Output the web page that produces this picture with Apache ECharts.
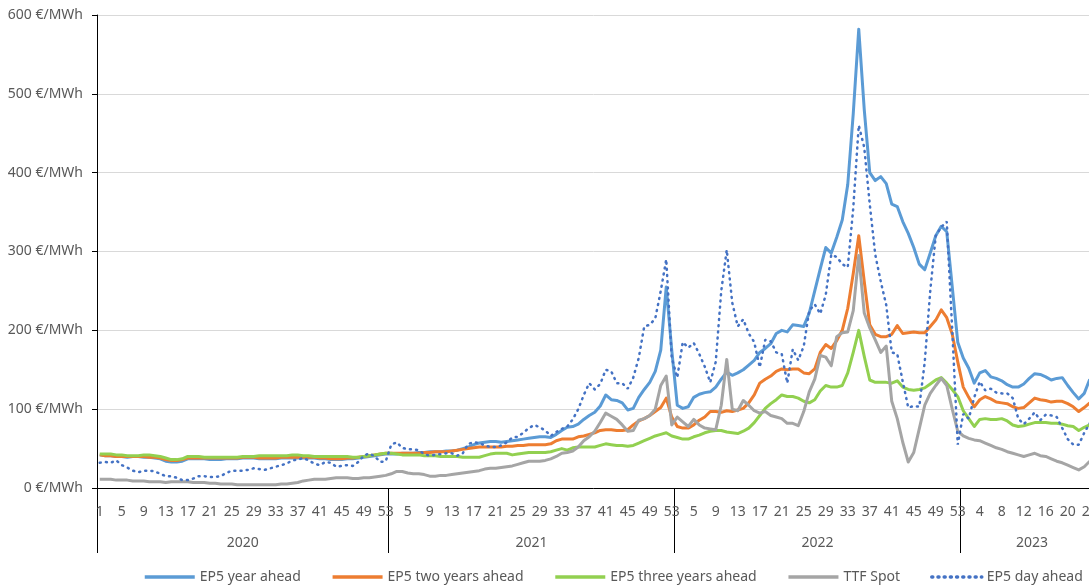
<!DOCTYPE html>
<html>
<head>
<meta charset="utf-8">
<script src="https://cdn.jsdelivr.net/npm/echarts@6/dist/echarts.min.js"></script>
<style>
  html, body { margin: 0; padding: 0; background: #fff; }
  #main { width: 1089px; height: 588px; }
</style>
</head>
<body>
<div id="main"></div>
<script>
// weekly categories per year (first and last week number shown on the axis)
const years = ['2020', '2021', '2022', '2023']
const firstWeek = [1, 2, 2, 1]
const lastWeek = [53, 53, 53, 26]

const seriesNames = ['EP5 year ahead', 'EP5 two years ahead', 'EP5 three years ahead', 'TTF Spot', 'EP5 day ahead']
const seriesColors = ['#5B9BD5', '#ED7D31', '#92D050', '#A5A5A5', '#4472C4']

const yTicks = [0, 100, 200, 300, 400, 500, 600]

// €/MWh
const yearAhead = [
  42, 41, 41, 40, 40, 39, 40, 40, 39, 39, 38, 37, 34, 33, 33, 34, 37, 37, 37, 37,
  36, 36, 36, 37, 37, 37, 38, 38, 38, 37, 37, 37, 37, 38, 38, 38, 38, 38, 38, 38,
  37, 37, 36, 36, 36, 37, 37, 38, 39, 40, 41, 42, 43,
  43, 43, 44, 44, 44, 45, 45, 46, 46, 46, 47, 47, 48, 50, 52, 55, 57, 58, 59, 59,
  58, 59, 60, 61, 62, 63, 64, 65, 65, 64, 68, 73, 77, 78, 81, 87, 92, 96, 104, 118,
  112, 111, 108, 99, 101, 115, 125, 134, 148, 175, 255, 175,
  105, 101, 103, 115, 119, 121, 122, 128, 138, 147, 143, 146, 150, 156, 162, 172, 177, 183, 196, 200,
  198, 207, 206, 205, 222, 250, 278, 305, 298, 318, 340, 385, 475, 582, 480, 400, 390, 395, 386, 360,
  357, 338, 323, 305, 284, 277, 298, 320, 332, 325, 255, 185,
  165, 152, 133, 146, 149, 141, 139, 136, 131, 128, 128, 132, 139, 145, 144, 141, 137, 139, 140, 130,
  121, 113, 120, 138
]
const twoYearsAhead = [
  42, 41, 41, 40, 40, 40, 40, 40, 40, 39, 39, 38, 36, 35, 35, 36, 38, 38, 38, 38,
  38, 38, 38, 38, 38, 38, 39, 39, 39, 38, 38, 38, 38, 39, 39, 39, 39, 39, 39, 39,
  38, 38, 37, 37, 37, 38, 38, 39, 40, 41, 42, 43, 44,
  44, 44, 44, 44, 44, 44, 45, 45, 46, 46, 46, 47, 48, 49, 50, 51, 52, 52, 52, 52,
  52, 53, 53, 54, 54, 55, 55, 55, 55, 56, 60, 62, 62, 62, 65, 66, 68, 70, 73, 74,
  74, 73, 73, 74, 80, 85, 88, 92, 97, 102, 114, 90,
  78, 76, 76, 80, 86, 90, 97, 97, 96, 98, 97, 99, 101, 108, 118, 133, 138, 142, 148, 151,
  150, 151, 151, 146, 145, 151, 172, 182, 177, 187, 200, 228, 272, 320, 262, 207, 195, 192, 192, 195,
  206, 196, 197, 198, 197, 197, 205, 213, 226, 216, 195, 160,
  128, 115, 103, 112, 116, 113, 109, 108, 107, 103, 101, 102, 108, 114, 112, 111, 109, 110, 110, 107,
  103, 97, 102, 108
]
const threeYearsAhead = [
  43, 43, 43, 42, 42, 41, 41, 41, 42, 42, 41, 40, 38, 36, 36, 37, 40, 40, 40, 39,
  39, 39, 39, 39, 39, 39, 40, 40, 40, 41, 41, 41, 41, 41, 41, 42, 42, 41, 41, 40,
  40, 40, 40, 40, 40, 40, 39, 39, 40, 41, 42, 43, 44,
  44, 43, 42, 42, 42, 42, 41, 41, 41, 40, 40, 40, 40, 39, 39, 39, 39, 41, 43, 44,
  44, 44, 42, 43, 44, 45, 45, 45, 45, 46, 48, 50, 48, 51, 52, 52, 52, 52, 54, 56,
  55, 54, 54, 53, 54, 57, 60, 63, 66, 68, 70, 66,
  64, 62, 62, 65, 67, 70, 72, 73, 73, 71, 70, 69, 72, 76, 83, 92, 101, 107, 112, 118,
  116, 116, 114, 110, 108, 112, 123, 130, 128, 128, 130, 146, 172, 200, 167, 137, 134, 134, 134, 133,
  136, 128, 125, 124, 125, 127, 132, 137, 140, 133, 125, 116,
  98, 88, 78, 87, 88, 87, 87, 88, 85, 80, 78, 79, 81, 83, 83, 83, 82, 82, 81, 79,
  78, 73, 77, 80
]
const ttfSpot = [
  11, 11, 11, 10, 10, 10, 9, 9, 9, 8, 8, 8, 7, 8, 8, 8, 8, 7, 7, 7,
  6, 6, 5, 5, 5, 4, 4, 4, 4, 4, 4, 4, 4, 5, 5, 6, 7, 9, 10, 11,
  11, 11, 12, 13, 13, 13, 12, 12, 13, 13, 14, 15, 16,
  18, 21, 21, 19, 18, 18, 17, 15, 15, 16, 16, 17, 18, 19, 20, 21, 22, 24, 25, 25,
  26, 27, 28, 30, 32, 34, 34, 34, 35, 37, 40, 44, 45, 47, 52, 60, 65, 72, 83, 95,
  91, 87, 80, 72, 73, 86, 88, 92, 100, 130, 142, 80,
  90, 84, 78, 87, 80, 76, 75, 74, 105, 163, 100, 98, 111, 105, 98, 95, 97, 92, 90, 88,
  82, 82, 79, 97, 122, 138, 168, 166, 155, 192, 197, 198, 225, 295, 222, 203, 188, 172, 180, 110,
  88, 58, 33, 45, 75, 105, 120, 130, 139, 130, 100, 72,
  66, 63, 61, 60, 57, 54, 51, 49, 46, 44, 42, 40, 42, 44, 41, 40, 37, 34, 32, 29,
  26, 23, 27, 34
]
const dayAhead = [
  32, 33, 32, 35, 29, 26, 22, 20, 22, 22, 21, 18, 15, 15, 13, 10, 10, 12, 15, 15,
  14, 14, 15, 19, 22, 22, 22, 23, 25, 24, 23, 25, 27, 29, 31, 35, 36, 38, 35, 31,
  29, 33, 32, 27, 28, 29, 28, 33, 41, 44, 40, 33, 34,
  55, 58, 51, 49, 49, 48, 43, 41, 42, 43, 44, 44, 41, 44, 56, 58, 57, 54, 52, 52,
  54, 58, 64, 65, 70, 76, 80, 77, 73, 66, 71, 75, 78, 87, 100, 118, 133, 125, 132, 150,
  148, 133, 133, 126, 140, 165, 205, 207, 215, 250, 290, 165,
  140, 185, 178, 184, 170, 154, 134, 160, 250, 302, 235, 205, 214, 196, 185, 153, 188, 186, 172, 170,
  133, 176, 162, 180, 225, 233, 221, 245, 296, 293, 284, 280, 355, 460, 432, 360, 296, 262, 232, 172,
  170, 135, 102, 104, 103, 160, 250, 320, 331, 338, 200, 55,
  94, 88, 115, 135, 124, 126, 121, 120, 120, 114, 88, 81, 88, 96, 86, 93, 92, 90, 76, 62,
  55, 55, 70, 82
]

// build the category axis and the year bands from the week ranges
const weekLabels = []
const yearStarts = []
const yearCenters = []
years.forEach((y, i) => {
  const start = weekLabels.length
  for (let w = firstWeek[i]; w <= lastWeek[i]; w++) weekLabels.push(String(w))
  yearStarts.push(start)
  yearCenters.push((start + weekLabels.length) / 2)
})
const total = weekLabels.length

const chart = echarts.init(document.getElementById('main'))

const valuesBySeries = [yearAhead, twoYearsAhead, threeYearsAhead, ttfSpot, dayAhead]
const series = valuesBySeries.map((vals, i) => {
  const dotted = i === 4
  return {
    name: seriesNames[i],
    type: 'line',
    data: vals,
    symbol: 'none',
    xAxisIndex: 0,
    color: seriesColors[i],
    lineStyle: dotted
      ? { width: 2.5, color: seriesColors[i], type: [1, 5.2], cap: 'round' }
      : { width: 3, color: seriesColors[i], join: 'round' },
    z: 2 + i
  }
})

const labelColor = '#595959'

const option = {
  animation: false,
  textStyle: { fontFamily: 'Noto Sans' },
  grid: {
    left: 97,
    right: -14.5,
    top: 15,
    bottom: 100,
    containLabel: false,
    outerBoundsMode: 'none'
  },
  legend: {
    left: 143,
    top: 570,
    width: 1000,
    padding: 0,
    itemWidth: 50,
    itemHeight: 12,
    itemGap: 30,
    itemStyle: { opacity: 0 },
    lineStyle: { width: 3.5 },
    textStyle: { fontSize: 14, color: labelColor },
    data: seriesNames
  },
  xAxis: [
    {
      type: 'category',
      data: weekLabels,
      boundaryGap: true,
      axisLine: { lineStyle: { color: '#000', width: 1 } },
      axisTick: { show: false },
      axisLabel: { interval: 3, margin: 17, fontSize: 14, color: labelColor },
      splitLine: { show: false }
    },
    {
      type: 'value',
      min: 0,
      max: total,
      position: 'bottom',
      axisLine: { show: false },
      axisTick: {
        show: true,
        customValues: yearStarts,
        length: 65,
        lineStyle: { color: '#000', width: 1 }
      },
      axisLabel: {
        customValues: yearCenters,
        formatter: v => years[yearCenters.indexOf(v)] || '',
        margin: 48,
        fontSize: 14,
        color: labelColor
      },
      splitLine: { show: false }
    }
  ],
  yAxis: {
    type: 'value',
    min: yTicks[0],
    max: yTicks[yTicks.length - 1],
    interval: 100,
    axisLine: { show: true, lineStyle: { color: '#000', width: 1 } },
    axisTick: { show: true, length: 5, lineStyle: { color: '#000' } },
    axisLabel: { formatter: '{value} €/MWh', margin: 14, fontSize: 14, color: labelColor },
    splitLine: { lineStyle: { color: '#d9d9d9', width: 1 } }
  },
  series: series
}

chart.setOption(option)
</script>
</body>
</html>
